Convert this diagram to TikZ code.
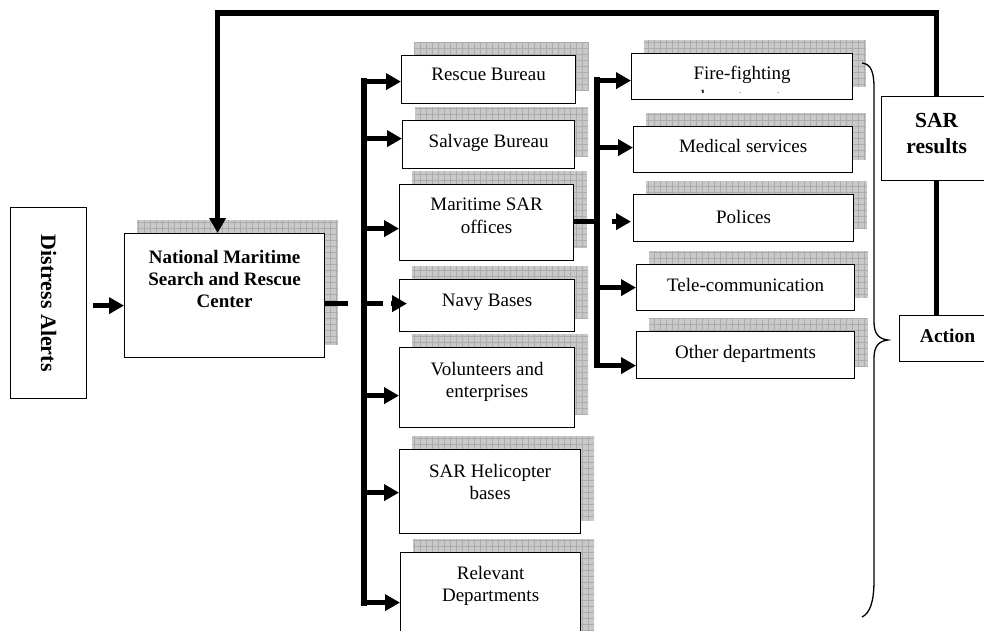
\documentclass[tikz,border=0pt]{standalone}
\usepackage{fontspec}
\setmainfont{Liberation Serif}
\usetikzlibrary{arrows.meta,calc}
\pgfdeclarelayer{background}
\pgfsetlayers{background,main}

\tikzset{
  box/.style={draw, fill=white, line width=1.2pt, inner sep=0pt},
  txt/.style={font=\fontsize{19}{22.5}\selectfont, align=center, inner sep=0pt, anchor=north},
  btxt/.style={font=\fontsize{19}{22}\selectfont\bfseries, align=center, inner sep=0pt, anchor=north},
  thk/.style={line width=5.5pt},
  arr/.style={line width=5.5pt, -{Triangle[length=15pt,width=16pt]}},
  bracestyle/.style={line width=1.3pt},
  shadowfill/.style={fill=gray!42},
  shadowgrid/.style={draw=gray!65, line width=0.5pt},
}

% name, x1, y1, x2, y2  (top-left / bottom-right in picture pixels)
\newcommand\mkbox[5]{%
  \node[box, anchor=north west, minimum width={(#4-#2)*1pt}, minimum height={(#5-#3)*1pt}] (#1) at (#2,#3) {};}

\newcommand\mkshadow[1]{%
  \begin{scope}
    \clip ([shift={(13pt,13pt)}]#1.south west) rectangle ([shift={(13pt,13pt)}]#1.north east);
    \fill[shadowfill] ([shift={(13pt,13pt)}]#1.south west) rectangle ([shift={(13pt,13pt)}]#1.north east);
    \draw[shadowgrid, step=6pt] ([shift={(13pt,13pt)}]#1.south west) grid ([shift={(13pt,13pt)}]#1.north east);
  \end{scope}}

\begin{document}
\begin{tikzpicture}[x=1pt,y=-1pt, line join=miter]
\useasboundingbox (0,0) rectangle (984,630);

% ---------- boxes ----------
\mkbox{da}{10}{207}{86}{398}
\mkbox{nm}{124}{233}{324}{357}
\mkbox{rb}{401}{55}{575}{103}
\mkbox{sb}{402}{120}{574}{168}
\mkbox{ms}{399}{184}{573}{260}
\mkbox{nb}{399}{279}{574}{331}
\mkbox{ve}{399}{347}{574}{427}
\mkbox{sh}{399}{449}{580}{533}
\mkbox{rd}{400}{552}{580}{645}
\mkbox{ff}{631}{53}{852}{99}
\mkbox{me}{633}{126}{852}{172}
\mkbox{po}{633}{194}{853}{241}
\mkbox{te}{636}{264}{854}{310}
\mkbox{od}{636}{331}{854}{378}
\mkbox{sr}{881}{96}{991}{180}
\mkbox{ac}{899}{315}{995}{361}

% ---------- shadows ----------
\begin{pgfonlayer}{background}
  \mkshadow{nm}
  \mkshadow{rb}\mkshadow{sb}\mkshadow{ms}\mkshadow{nb}
  \mkshadow{ve}\mkshadow{sh}\mkshadow{rd}
  \mkshadow{ff}\mkshadow{me}\mkshadow{po}\mkshadow{te}\mkshadow{od}
\end{pgfonlayer}

% ---------- texts ----------
\node[font=\fontsize{22}{24}\selectfont\bfseries, rotate=-90, inner sep=0pt] (da-t) at (da.center) {Distress Alerts};
\node[btxt] (nm-t) at ([yshift=-17pt]nm.north) {National Maritime\\Search and Rescue\\Center};
\node[txt] (rb-t) at ([yshift=-13pt]rb.north) {Rescue Bureau};
\node[txt] (sb-t) at ([yshift=-14pt]sb.north) {Salvage Bureau};
\node[txt] (ms-t) at ([yshift=-14pt]ms.north) {Maritime SAR\\offices};
\node[txt] (nb-t) at ([yshift=-15pt]nb.north) {Navy Bases};
\node[txt] (ve-t) at ([yshift=-15pt]ve.north) {Volunteers and\\enterprises};
\node[txt] (sh-t) at ([yshift=-15pt]sh.north) {SAR Helicopter\\bases};
\node[txt] (rd-t) at ([yshift=-14pt]rd.north) {Relevant\\Departments};
\begin{scope}
  \clip (ff.north west) rectangle ([yshift=8pt]ff.south east);
  \node[txt, font=\fontsize{19}{24}\selectfont] (ff-t) at ([yshift=-13pt]ff.north) {Fire-fighting\\departments};
\end{scope}
\node[txt] (me-t) at ([yshift=-13pt]me.north) {Medical services};
\node[txt] (po-t) at ([yshift=-16pt]po.north) {Polices};
\node[txt] (te-t) at ([yshift=-14pt]te.north) {Tele-communication};
\node[txt] (od-t) at ([yshift=-14pt]od.north) {Other departments};
\node[font=\fontsize{21.5}{26}\selectfont\bfseries, align=center, inner sep=0pt] (sr-t) at ([yshift=5pt]sr.center) {SAR\\results};
\node[font=\fontsize{19.5}{22}\selectfont\bfseries, inner sep=0pt] (ac-t) at ([yshift=3pt]ac.center) {Action};

% ---------- connectors ----------
% distress alerts -> centre
\coordinate (daout) at ([xshift=6pt]da.east);
\coordinate (nmin) at ([yshift=-10pt]nm.west);
\draw[arr] (daout |- nmin) -- (nmin);

% feedback loop
\draw[thk] (sr.south) -- (sr.south |- ac.north);
\coordinate (nmtop) at ([xshift=-7pt]nm.north);
\coordinate (toprow) at (0,13);
\draw[arr] (sr.north) -- (sr.north |- toprow) -- (nmtop |- toprow) -- (nmtop);

% left bus
\coordinate (bl1) at (364,81);
\coordinate (bl2) at (364,603);
\draw[thk, line cap=rect] (bl1) -- (bl2);
\coordinate (rbin) at ([yshift=-2pt]rb.west);
\coordinate (sbin) at ([yshift=6pt]sb.west);
\coordinate (msin) at ([yshift=-6pt]ms.west);
\coordinate (nbin) at ([yshift=2pt]nb.west);
\coordinate (vein) at ([yshift=-8pt]ve.west);
\coordinate (shin) at ([yshift=-1pt]sh.west);
\coordinate (rdin) at ([yshift=-3.5pt]rd.west);
\draw[arr] (rbin -| bl1) -- (rbin);
\draw[arr] (sbin -| bl1) -- (sbin);
\draw[arr] (msin -| bl1) -- (msin);
\draw[arr] (vein -| bl1) -- (vein);
\draw[arr] (shin -| bl1) -- (shin);
\draw[arr] (rdin -| bl1) -- (rdin);

% centre -> left bus -> navy bases
\coordinate (nmout) at ([yshift=-8pt]nm.east);
\draw[thk] (nmout) -- ([xshift=23pt]nmout);
\draw[thk] (nbin -| bl1) -- ([xshift=-16pt]nbin);
\draw[arr] ([xshift=-8pt]nbin) -- ([xshift=8pt]nbin);

% right bus
\coordinate (br1) at (597,80);
\coordinate (br2) at (597,365);
\draw[thk, line cap=rect] (br1) -- (br2);
\coordinate (ffin) at ([yshift=-4pt]ff.west);
\coordinate (mein) at ([yshift=2pt]me.west);
\coordinate (tein) at (te.west);
\coordinate (odin) at ([yshift=-10.5pt]od.west);
\draw[arr] (ffin -| br1) -- (ffin);
\draw[arr] (mein -| br1) -- (mein);
\draw[arr] (tein -| br1) -- (tein);
\draw[arr] (odin -| br1) -- (odin);

% maritime SAR offices -> right bus -> polices
\coordinate (msout) at ([yshift=1pt]ms.east);
\draw[thk] (msout) -- (msout -| br1);
\coordinate (poin) at ([yshift=-3.5pt]po.west);
\draw[arr] ([xshift=-21pt]poin) -- ([xshift=-2pt]poin);

% ---------- brace ----------
\draw[bracestyle] (862,63) .. controls (871,64) and (874,72) .. (874,88)
  -- (874,322) .. controls (874,334) and (879,339) .. (888,340)
  .. controls (879,341) and (874,346) .. (874,358)
  -- (874,580) .. controls (874,602) and (870,613) .. (862,617);
\end{tikzpicture}
\end{document}
